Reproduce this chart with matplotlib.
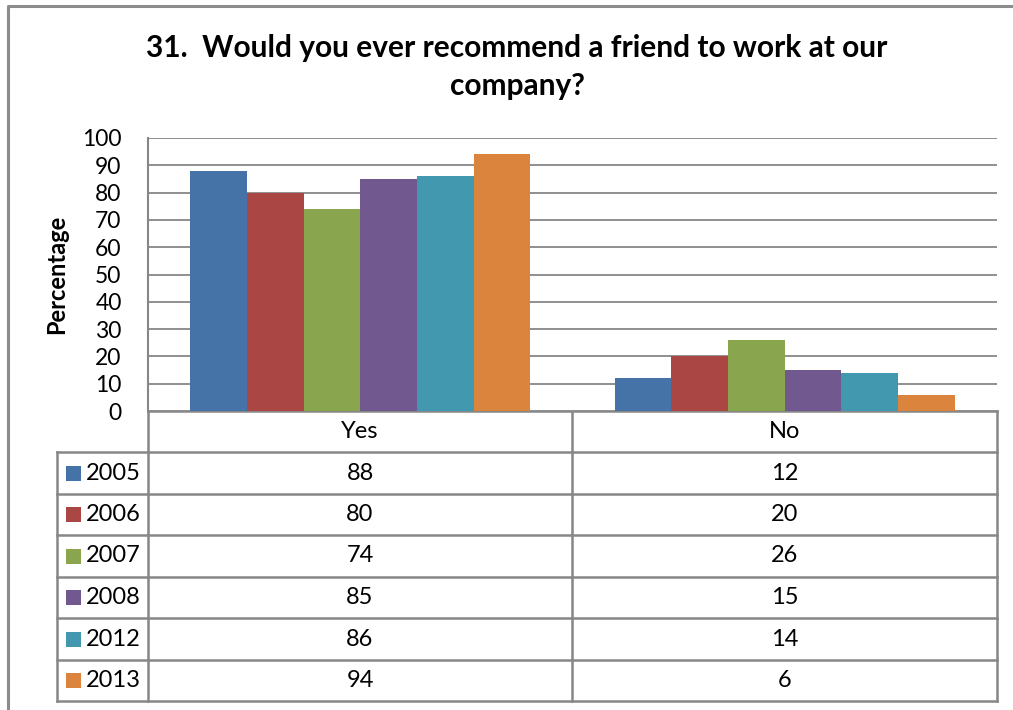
import matplotlib

matplotlib.use("Agg")
import matplotlib.pyplot as plt
from matplotlib.patches import Rectangle
import numpy as np

plt.rcParams["font.family"] = ["Lato", "DejaVu Sans"]

TITLE = "31.  Would you ever recommend a friend to work at our\ncompany?"
categories = ["Yes", "No"]
years = ["2005", "2006", "2007", "2008", "2012", "2013"]
yes_vals = [88, 80, 74, 85, 86, 94]
no_vals = [12, 20, 26, 15, 14, 6]
colors = ["#4572A7", "#AA4643", "#89A54E", "#71588F", "#4198AF", "#DB843D"]

W, H = 1013, 710
GRID = "#878787"
FS = 17

fig = plt.figure(figsize=(W / 100, H / 100), dpi=100)

# full-figure pixel canvas for frame, title, table
bg = fig.add_axes([0, 0, 1, 1])
bg.set_xlim(0, W)
bg.set_ylim(H, 0)
bg.axis("off")

bg.plot([8, 8, W + 5], [H + 5, 6, 6], color="#8c8c8c", lw=2.2)

bg.text(517, 67, TITLE, ha="center", va="center", fontsize=21.5,
        fontweight="bold", linespacing=1.45)

# bar chart area
L, R, T, B = 148, 997, 138, 411
ax = fig.add_axes([L / W, (H - B) / H, (R - L) / W, (B - T) / H])
n = len(years)
bw = 0.1335
x = np.arange(len(categories))
for i, yr in enumerate(years):
    vals = [yes_vals[i], no_vals[i]]
    ax.bar(x + (i - (n - 1) / 2) * bw, vals, width=bw, color=colors[i],
           edgecolor="none", zorder=3)
ax.set_xlim(-0.5, 1.5)
ax.set_ylim(0, 100)
ax.set_yticks(range(0, 101, 10))
ax.yaxis.grid(True, color=GRID, lw=1.3, zorder=0)
ax.set_xticks([])
for side in ("top", "right", "bottom"):
    ax.spines[side].set_visible(False)
ax.spines["left"].set_color(GRID)
ax.spines["left"].set_linewidth(1.5)
ax.tick_params(axis="y", length=0, labelsize=16.5, pad=19)
ax.set_ylabel("Percentage", fontsize=17, fontweight="bold")
ax.yaxis.set_label_coords(-(L - 68) / (R - L), 0.5)

# data table under the plot
row_edges = [411, 452, 494, 535, 577, 618, 660, 701]
col_mid = 572
leg_left = 57
lw = 1.8
bg.plot([L, L], [row_edges[0], row_edges[-1]], color=GRID, lw=lw)
bg.plot([R, R], [row_edges[0], row_edges[-1]], color=GRID, lw=lw)
bg.plot([col_mid, col_mid], [row_edges[0], row_edges[-1]], color=GRID, lw=lw)
bg.plot([leg_left, leg_left], [row_edges[1], row_edges[-1]], color=GRID, lw=lw)
bg.plot([L, R], [row_edges[0]] * 2, color=GRID, lw=lw)
for yy in row_edges[1:]:
    bg.plot([leg_left, R], [yy, yy], color=GRID, lw=lw)

centers = [(L + col_mid) / 2, (col_mid + R) / 2]
hy = (row_edges[0] + row_edges[1]) / 2
for cx, cat in zip(centers, categories):
    bg.text(cx, hy, cat, ha="center", va="center", fontsize=FS)

for i, yr in enumerate(years):
    cy = (row_edges[i + 1] + row_edges[i + 2]) / 2
    bg.add_patch(Rectangle((66, cy - 7.5), 15, 15, color=colors[i], lw=0))
    bg.text(86, cy, yr, ha="left", va="center", fontsize=FS)
    bg.text(centers[0], cy, str(yes_vals[i]), ha="center", va="center", fontsize=FS)
    bg.text(centers[1], cy, str(no_vals[i]), ha="center", va="center", fontsize=FS)

fig.savefig("out.png", dpi=100)
